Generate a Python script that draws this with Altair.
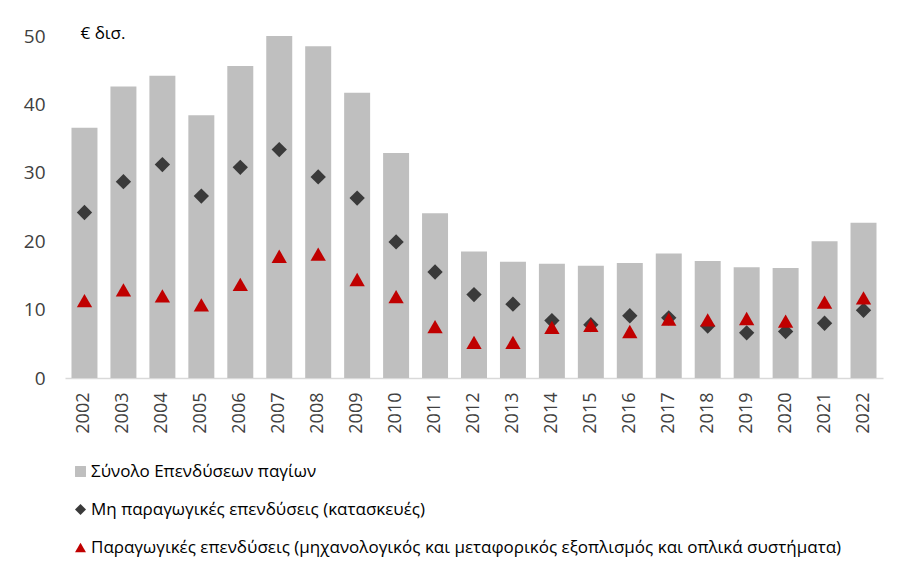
import altair as alt
import pandas as pd

years = [str(y) for y in range(2002, 2023)]
total = [36.6, 42.6, 44.2, 38.4, 45.6, 50.0, 48.5, 41.7, 32.9, 24.1, 18.5,
         17.0, 16.7, 16.4, 16.8, 18.2, 17.1, 16.2, 16.1, 20.0, 22.7]
nonprod = [24.2, 28.7, 31.2, 26.6, 30.8, 33.4, 29.4, 26.3, 19.9, 15.5, 12.2,
           10.8, 8.4, 7.8, 9.1, 8.8, 7.6, 6.6, 6.8, 8.0, 9.9]
prod = [11.3, 12.9, 12.0, 10.7, 13.7, 17.8, 18.1, 14.4, 11.9, 7.5, 5.2,
        5.2, 7.4, 7.7, 6.8, 8.6, 8.5, 8.7, 8.3, 11.1, 11.7]

s_total = "Σύνολο Επενδύσεων παγίων"
s_nonprod = "Μη παραγωγικές επενδύσεις (κατασκευές)"
s_prod = "Παραγωγικές επενδύσεις (μηχανολογικός και μεταφορικός εξοπλισμός και οπλικά συστήματα)"
series = [s_total, s_nonprod, s_prod]
colors = ["#bfbfbf", "#3a3a3a", "#c00000"]
shapes = ["square", "diamond", "triangle-up"]

df_total = pd.DataFrame({"year": years, "value": total, "series": s_total})
df_pts = pd.concat([
    pd.DataFrame({"year": years, "value": nonprod, "series": s_nonprod}),
    pd.DataFrame({"year": years, "value": prod, "series": s_prod}),
])

FONT = "Open Sans"

x_enc = alt.X("year:N", title=None,
              scale=alt.Scale(paddingInner=0.333, paddingOuter=0.1667),
              axis=alt.Axis(labelAngle=-90, labelFontSize=18, labelColor="#404040",
                            labelFont=FONT, ticks=False, domainColor="#d9d9d9",
                            domainWidth=1.5, labelPadding=14, labelBaseline="middle"))
y_enc = alt.Y("value:Q", scale=alt.Scale(domain=[0, 50], nice=False),
              title="€ δισ.",
              axis=alt.Axis(values=[0, 10, 20, 30, 40, 50], grid=False, domain=False,
                            ticks=False, labelFontSize=19, labelColor="#404040",
                            labelFont=FONT, labelPadding=20,
                            titleAngle=0, titleAlign="left", titleBaseline="middle",
                            titleX=15, titleY=-3, titleFontSize=17,
                            titleFontWeight="normal", titleColor="#000000",
                            titleFont=FONT))

color_scale = alt.Scale(domain=series, range=colors)
shape_scale = alt.Scale(domain=series, range=shapes)
legend = alt.Legend(title=None, orient="none", legendX=7, legendY=427,
                    direction="vertical", labelFontSize=17, labelFont=FONT,
                    labelColor="#000000", symbolSize=120, symbolOpacity=1,
                    symbolStrokeWidth=0, rowPadding=20, labelOffset=2,
                    labelLimit=900, padding=0, symbolOffset=0)

bars = alt.Chart(df_total).mark_bar().encode(
    x=x_enc, y=y_enc,
    color=alt.Color("series:N", scale=color_scale, legend=legend),
)
pts = alt.Chart(df_pts).mark_point(filled=True, opacity=1, size=235, strokeWidth=0).encode(
    x=x_enc, y=y_enc,
    color=alt.Color("series:N", scale=color_scale, legend=legend),
    shape=alt.Shape("series:N", scale=shape_scale, legend=legend),
)

chart = alt.layer(bars, pts).properties(
    width=818, height=342,
    autosize=alt.AutoSizeParams(type="none"),
    padding={"left": 57, "top": 28, "right": 14, "bottom": 190},
    background="white",
).configure_view(stroke=None)

chart.save("out.html", embed_options={"renderer": "svg", "actions": False})
